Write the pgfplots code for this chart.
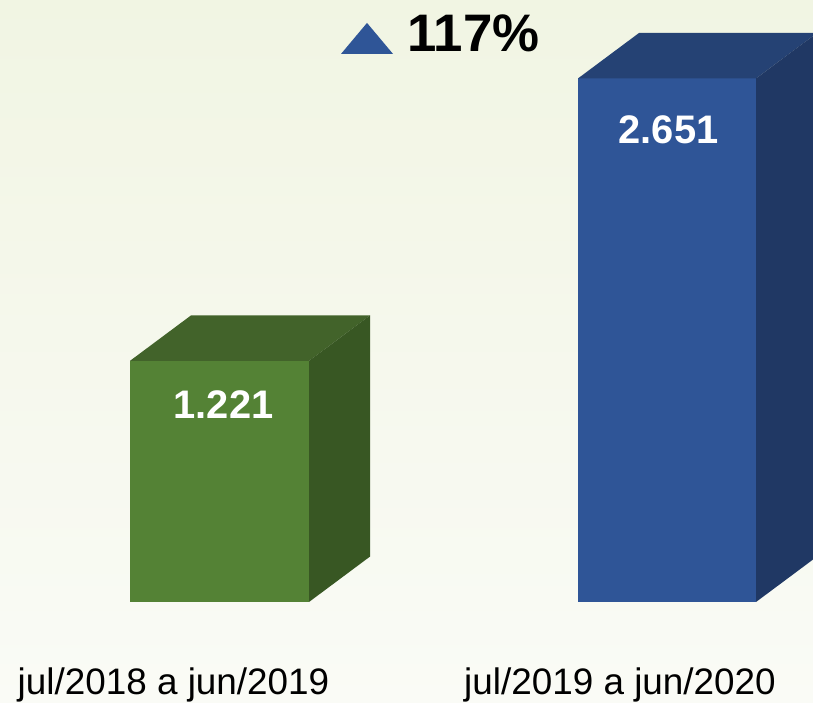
\documentclass[border=0pt]{standalone}
\usepackage{fontspec}
\setmainfont{Liberation Sans}
\usepackage{pgfplots}
\pgfplotsset{compat=1.18}
\definecolor{bgtop}{HTML}{F1F5E3}
\definecolor{bgbot}{HTML}{FAFBF6}
\definecolor{gfront}{HTML}{548235}
\definecolor{gtop}{HTML}{42632A}
\definecolor{gside}{HTML}{385723}
\definecolor{bfront}{HTML}{2F5597}
\definecolor{btop}{HTML}{254274}
\definecolor{bside}{HTML}{203864}
\begin{document}
\begin{tikzpicture}
\begin{axis}[
  width=813bp, height=703bp, scale only axis,
  hide axis,
  xmin=0, xmax=813,
  ymin=-511.4, ymax=3048.1,
  clip=true,
]
\fill[top color=bgtop, bottom color=bgbot] (rel axis cs:0,0) rectangle (rel axis cs:1,1);
% green bar 1.221
\addplot[draw=none, fill=gfront] coordinates {(130,0) (309,0) (309,1221) (130,1221)} --cycle;
\addplot[draw=none, fill=gtop] coordinates {(130,1221) (309,1221) (370,1451) (191,1451)} --cycle;
\addplot[draw=none, fill=gside] coordinates {(309,0) (370,230) (370,1451) (309,1221)} --cycle;
% blue bar 2.651
\addplot[draw=none, fill=bfront] coordinates {(578,0) (756,0) (756,2651) (578,2651)} --cycle;
\addplot[draw=none, fill=btop] coordinates {(578,2651) (756,2651) (817,2881) (639,2881)} --cycle;
\addplot[draw=none, fill=bside] coordinates {(756,0) (817,230) (817,2881) (756,2651)} --cycle;
% triangle
\addplot[draw=none, fill=bfront] coordinates {(341,2775) (393,2775) (367,2932)} --cycle;
% texts
\node[anchor=base, inner sep=0pt, text=white, font=\fontsize{40}{44}\selectfont\bfseries] at (axis cs:223.5,931.6) {1.221};
\node[anchor=base, inner sep=0pt, text=white, font=\fontsize{40}{44}\selectfont\bfseries] at (axis cs:668.5,2324) {2.651};
\node[anchor=base west, inner sep=0pt, text=black, font=\fontsize{53}{57}\selectfont\bfseries] at (axis cs:407,2785) {117\%};
\node[anchor=base, inner sep=0pt, text=black, font=\fontsize{37}{40}\selectfont] at (axis cs:173.5,-466) {jul/2018 a jun/2019};
\node[anchor=base, inner sep=0pt, text=black, font=\fontsize{37}{40}\selectfont] at (axis cs:620,-466) {jul/2019 a jun/2020};
\end{axis}
\pgfresetboundingbox
\useasboundingbox (current axis.south west) rectangle (current axis.north east);
\end{tikzpicture}
\end{document}
